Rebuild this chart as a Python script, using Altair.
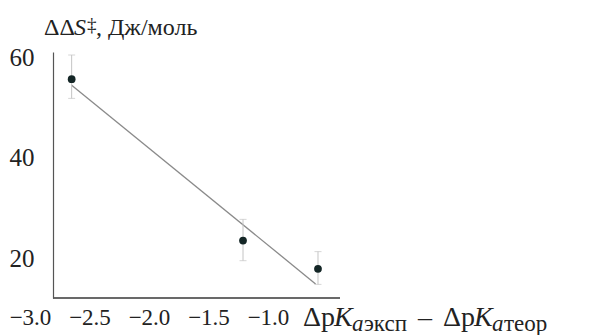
import altair as alt
import pandas as pd

# data
x_vals = [-2.65, -1.21, -0.58]
y_vals = [55.6, 23.6, 18.0]
err_lo = [51.8, 19.6, 14.9]
err_hi = [60.4, 27.8, 21.4]
fit_x = [-2.65, -0.60]
fit_y = [54.4, 15.0]
x_ticks = [-3.0, -2.5, -2.0, -1.5, -1.0]
y_ticks = [20, 40, 60]

pts = pd.DataFrame({"x": x_vals, "y": y_vals, "lo": err_lo, "hi": err_hi})
fit = pd.DataFrame({"x": fit_x, "y": fit_y})

FONT = "Liberation Serif, Times New Roman, DejaVu Serif, serif"
W, H = 310, 246
AX = 23  # pixel position of the y axis inside the plot
xs = alt.Scale(domain=[-3.0, -0.395], nice=False, zero=False)
ys = alt.Scale(domain=[12.2, 61.0], nice=False, zero=False)

xax = alt.Axis(values=x_ticks, format=".1f", title=None, grid=False, ticks=False,
               domain=False, labelFont=FONT, labelFontSize=23,
               labelColor="#222", labelPadding=8, labelOverlap=False, labelBound=False,
               labelFlush=False)
yax = alt.Axis(values=y_ticks, format="d", title=None, grid=False, ticks=False,
               domainColor="#555", domainWidth=1.2, labelFont=FONT, labelFontSize=25,
               labelColor="#222", labelPadding=19, labelOverlap=False, offset=-AX)

base_axes = alt.Chart(pts).mark_point(opacity=0).encode(
    x=alt.X("x:Q", scale=xs, axis=xax), y=alt.Y("y:Q", scale=ys, axis=yax))

# x axis line starts at the y axis (which sits right of the -3.0 tick)
xline = alt.Chart(pts).mark_rule(color="#555", strokeWidth=1.2).encode(
    x=alt.value(AX), x2=alt.value(W), y=alt.value(H))

line = alt.Chart(fit).mark_line(color="#8a8a8a", strokeWidth=1.3).encode(
    x=alt.X("x:Q", scale=xs), y=alt.Y("y:Q", scale=ys))

ebar = alt.Chart(pts).mark_errorbar(ticks=alt.MarkConfig(size=7, color="#c4c4c4"),
                                    color="#c4c4c4", thickness=1).encode(
    x=alt.X("x:Q", scale=xs), y=alt.Y("lo:Q", scale=ys, title=None), y2="hi:Q")

dots = alt.Chart(pts).mark_circle(size=60, color="#142626", opacity=1).encode(
    x=alt.X("x:Q", scale=xs), y=alt.Y("y:Q", scale=ys))


def txt(s, x, y, size=26, italic=False):
    return alt.Chart(pd.DataFrame({"t": [s]})).mark_text(
        font=FONT, fontSize=size, fontStyle="italic" if italic else "normal",
        align="left", baseline="alphabetic", color="#222").encode(
        x=alt.value(x), y=alt.value(y), text="t:N")

# y title: ΔΔS‡, Дж/моль
tx, ty = 14, -17
yt = [txt("ΔΔ", tx, ty, size=24), txt("S", tx + 30, ty, size=24, italic=True),
      txt("‡", tx + 43, ty - 4, size=19), txt(", Дж/моль", tx + 52, ty, size=24)]
# x title: ΔpK_aэксп – ΔpK_aтеор
bx, by = 273, 274
xt = [txt("Δp", bx, by, size=28), txt("K", bx + 31, by, size=28, italic=True),
      txt("a", bx + 49, by + 5, size=23, italic=True), txt("эксп", bx + 61, by + 5, size=23),
      txt("–", bx + 115, by, size=28),
      txt("Δp", bx + 140, by, size=28), txt("K", bx + 171, by, size=28, italic=True),
      txt("a", bx + 189, by + 5, size=23, italic=True), txt("теор", bx + 201, by + 5, size=23)]

chart = alt.layer(base_axes, xline, line, ebar, dots, *yt, *xt).properties(
    width=W, height=H, padding={"left": 30, "top": 52, "right": 251, "bottom": 37},
    autosize=alt.AutoSizeParams(type="none")
).configure(background="white").configure_view(stroke="transparent", strokeWidth=0)

chart.save("out.html", embed_options={"renderer": "svg", "actions": False})
